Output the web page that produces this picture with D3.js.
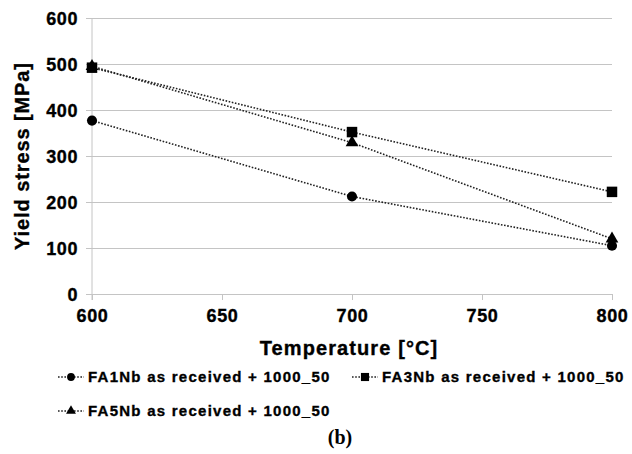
<!DOCTYPE html>
<html lang="en">
  <head>
    <meta charset='utf-8'>
    <script src='https://d3js.org/d3.v7.min.js'></script>
    <title>Yield stress vs temperature</title>
    <style>
      body {
        margin: 0px;
        background: #fff;
        overflow: hidden;
      }
      #chart {
        display: block;
      }
    </style>
  </head>
  <body>
    <svg id='chart' width='632' height='454'></svg>
    <script>
      // data
      const temps = [600, 700, 800];
      const fa1 = [377, 212, 105];
      const fa3 = [492, 352, 222];
      const fa5 = [495, 329, 120];
      const seriesNames = [
        'FA1Nb as received + 1000_50',
        'FA3Nb as received + 1000_50',
        'FA5Nb as received + 1000_50'
      ];
      const xTicks = [600, 650, 700, 750, 800];
      const yTicks = [0, 100, 200, 300, 400, 500, 600];

      const series = [
        { name: seriesNames[0], values: fa1, symbol: d3.symbolCircle, size: 80 },
        { name: seriesNames[1], values: fa3, symbol: d3.symbolSquare, size: 110 },
        { name: seriesNames[2], values: fa5, symbol: d3.symbolTriangle, size: 70 }
      ];

      const sans = "'Liberation Sans', Arial, sans-serif";
      // bold black text, a thin stroke makes it look as heavy as the scan
      const boldText = (sel, size, spacing) => sel
        .style('font-family', sans)
        .style('font-weight', '700')
        .style('font-size', size + 'px')
        .style('letter-spacing', spacing + 'px')
        .attr('fill', '#000')
        .attr('stroke', '#000')
        .attr('stroke-width', 0.35);

      const svg = d3.select('#chart');
      const margin = { left: 92, right: 20, top: 18, bottom: 160 };
      const width = 632, height = 454;
      const innerWidth = width - margin.left - margin.right;
      const innerHeight = height - margin.top - margin.bottom;

      const g = svg.append('g')
        .attr('transform', `translate(${margin.left},${margin.top})`);

      const xScale = d3.scaleLinear().domain([600, 800]).range([0, innerWidth]);
      const yScale = d3.scaleLinear().domain([0, 600]).range([innerHeight, 0]);

      // horizontal gridlines + y axis labels
      const yAxis = d3.axisLeft(yScale)
        .tickValues(yTicks)
        .tickSize(0)
        .tickPadding(0);
      const yAxisG = g.append('g').call(yAxis);
      yAxisG.select('.domain').remove();
      yAxisG.selectAll('.tick line')
        .attr('stroke', '#c4c4c4')
        .attr('x1', -6)
        .attr('x2', innerWidth);
      boldText(yAxisG.selectAll('.tick text'), 18, 0.6)
        .attr('x', -14)
        .attr('dy', '0.36em');

      // vertical axis line
      g.append('line')
        .attr('x1', 0).attr('x2', 0)
        .attr('y1', 0).attr('y2', innerHeight + 6)
        .attr('stroke', '#c4c4c4');

      // x axis ticks
      const xAxis = d3.axisBottom(xScale)
        .tickValues(xTicks)
        .tickSize(6)
        .tickPadding(5);
      const xAxisG = g.append('g')
        .attr('transform', `translate(0,${innerHeight})`)
        .call(xAxis);
      xAxisG.select('.domain').remove();
      xAxisG.selectAll('.tick line').attr('stroke', '#c4c4c4');
      boldText(xAxisG.selectAll('.tick text'), 18, 0.6)
        .attr('dy', '0.95em');

      // axis titles
      boldText(g.append('text'), 20, 1.1)
        .attr('x', innerWidth / 2 - 3)
        .attr('y', innerHeight + 61)
        .attr('text-anchor', 'middle')
        .text('Temperature [°C]');

      boldText(g.append('text'), 20, 0.9)
        .attr('transform', `translate(-63,${innerHeight / 2}) rotate(-90)`)
        .attr('text-anchor', 'middle')
        .text('Yield stress [MPa]');

      // lines
      const line = d3.line()
        .x((d, i) => xScale(temps[i]))
        .y(d => yScale(d));

      series.forEach(s => {
        g.append('path')
          .datum(s.values)
          .attr('d', line)
          .attr('fill', 'none')
          .attr('stroke', '#222')
          .attr('stroke-width', 1.6)
          .attr('stroke-dasharray', '1.6,1.6');
      });

      series.forEach(s => {
        g.selectAll(null)
          .data(s.values)
          .enter()
          .append('path')
          .attr('d', d3.symbol().type(s.symbol).size(s.size))
          .attr('transform', (d, i) => `translate(${xScale(temps[i])},${yScale(d)})`)
          .attr('fill', '#000');
      });

      // legend
      const legendPos = [
        { x: 58, y: 377 },
        { x: 352, y: 377 },
        { x: 58, y: 411 }
      ];
      series.forEach((s, i) => {
        const lg = svg.append('g')
          .attr('transform', `translate(${legendPos[i].x},${legendPos[i].y})`);
        lg.append('line')
          .attr('x1', 0).attr('x2', 26)
          .attr('y1', 0).attr('y2', 0)
          .attr('stroke', '#222')
          .attr('stroke-width', 1.6)
          .attr('stroke-dasharray', '1.6,1.6');
        lg.append('path')
          .attr('d', d3.symbol().type(s.symbol).size(s.size * 0.6))
          .attr('transform', 'translate(13,0)')
          .attr('fill', '#000');
        boldText(lg.append('text'), 15, 1.25)
          .attr('x', 30)
          .attr('dy', '0.36em')
          .text(s.name);
      });

      svg.append('text')
        .attr('x', 340)
        .attr('y', 444)
        .attr('text-anchor', 'middle')
        .style('font-family', "'Liberation Serif', 'Times New Roman', serif")
        .style('font-weight', '700')
        .style('font-size', '20px')
        .attr('fill', '#000')
        .text('(b)');
    </script>
  </body>
</html>
